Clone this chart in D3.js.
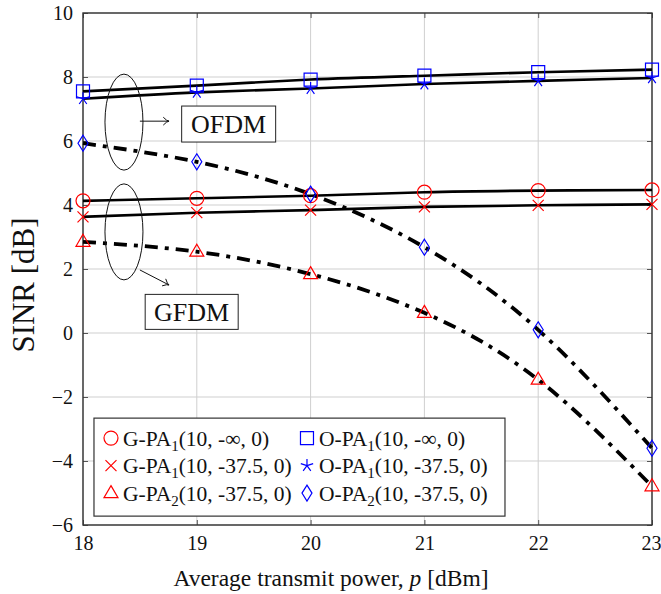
<!DOCTYPE html>
<html>
<head>
<meta charset="utf-8">
<script src="https://cdn.jsdelivr.net/npm/d3@7"></script>
<style>
  body { margin: 0; background: #fff; }
  text { font-family: "Liberation Serif", "DejaVu Serif", serif; fill: #111; }
</style>
</head>
<body>
<svg class="chart"></svg>
<script>
var margin = {top: 13, right: 9, bottom: 69, left: 83};
var width = 661 - margin.left - margin.right;
var height = 594 - margin.top - margin.bottom;

// data
var power = [18, 19, 20, 21, 22, 23];
var gPa1Inf = [4.13, 4.21, 4.29, 4.40, 4.45, 4.47];
var gPa1Tx = [3.63, 3.76, 3.84, 3.94, 3.99, 4.02];
var gPa2Tx = [2.85, 2.54, 1.84, 0.63, -1.46, -4.79];
var oPa1Inf = [7.55, 7.73, 7.92, 8.04, 8.15, 8.23];
var oPa1Tx = [7.32, 7.52, 7.64, 7.78, 7.88, 7.97];
var oPa2Tx = [5.93, 5.35, 4.34, 2.68, 0.10, -3.60];
var xTicks = [18, 19, 20, 21, 22, 23];
var yTicks = [-6, -4, -2, 0, 2, 4, 6, 8, 10];

var series = [
  {name: "G-PA", sub: "1", rest: "(10, -\u221e, 0)", values: gPa1Inf, mark: "circle", color: "#ff0000", dash: null},
  {name: "G-PA", sub: "1", rest: "(10, -37.5, 0)", values: gPa1Tx, mark: "cross", color: "#ff0000", dash: null},
  {name: "G-PA", sub: "2", rest: "(10, -37.5, 0)", values: gPa2Tx, mark: "triangle", color: "#ff0000", dash: "13,7,4,7"},
  {name: "O-PA", sub: "1", rest: "(10, -\u221e, 0)", values: oPa1Inf, mark: "square", color: "#0000ff", dash: null},
  {name: "O-PA", sub: "1", rest: "(10, -37.5, 0)", values: oPa1Tx, mark: "star", color: "#0000ff", dash: null},
  {name: "O-PA", sub: "2", rest: "(10, -37.5, 0)", values: oPa2Tx, mark: "diamond", color: "#0000ff", dash: "13,7,4,7"}
];

var svg = d3.select(".chart")
    .attr("width", 661)
    .attr("height", 594);

var chart = svg.append("g")
    .attr("transform", "translate(" + margin.left + "," + margin.top + ")");

var x = d3.scaleLinear().domain([18, 23]).range([0, width]);
var y = d3.scaleLinear().domain([-6, 10]).range([height, 0]);

// grid
chart.append("g").selectAll("line")
    .data(xTicks).enter().append("line")
    .attr("x1", function(d) { return x(d); })
    .attr("x2", function(d) { return x(d); })
    .attr("y1", 0).attr("y2", height)
    .attr("stroke", "#cfcfcf").attr("stroke-width", 1);
chart.append("g").selectAll("line")
    .data(yTicks).enter().append("line")
    .attr("y1", function(d) { return y(d); })
    .attr("y2", function(d) { return y(d); })
    .attr("x1", 0).attr("x2", width)
    .attr("stroke", "#cfcfcf").attr("stroke-width", 1);

// axes (ticks inside, labels outside)
var xAxis = chart.append("g")
    .attr("transform", "translate(0," + height + ")")
    .call(d3.axisBottom(x).tickValues(xTicks).tickSize(-5).tickPadding(11).tickFormat(d3.format("d")));
var yAxis = chart.append("g")
    .call(d3.axisLeft(y).tickValues(yTicks).tickSize(-5).tickPadding(10)
        .tickFormat(function(d) { return d < 0 ? "\u2212" + Math.abs(d) : d; }));
chart.append("g")
    .attr("transform", "translate(" + width + ",0)")
    .call(d3.axisRight(y).tickValues(yTicks).tickSize(-5).tickFormat(""));
chart.append("g")
    .call(d3.axisTop(x).tickValues(xTicks).tickSize(-5).tickFormat(""));
chart.selectAll(".domain").remove();
chart.selectAll(".tick line").attr("stroke", "#555");
[xAxis, yAxis].forEach(function(a) {
  a.selectAll("text").style("font-size", "20px")
    .style("font-family", "'Liberation Serif', serif").attr("fill", "#111");
});
xAxis.selectAll("text").filter(function(d) { return d === 23; }).attr("dx", -1);

chart.append("rect")
    .attr("width", width).attr("height", height)
    .attr("fill", "none").attr("stroke", "#333").attr("stroke-width", 1.4);

// curves
var line = d3.line()
    .x(function(d, i) { return x(power[i]); })
    .y(function(d) { return y(d); })
    .curve(d3.curveNatural);

chart.append("g").selectAll("path")
    .data(series).enter().append("path")
    .attr("d", function(d) { return line(d.values); })
    .attr("fill", "none")
    .attr("stroke", "#000")
    .attr("stroke-width", function(d) { return d.dash ? 3.8 : 2.6; })
    .attr("stroke-dasharray", function(d) { return d.dash; });

// markers
function drawMark(g, type, color) {
  var s = 6.5;
  var p;
  if (type === "circle") {
    g.append("circle").attr("r", 7).attr("fill", "none").attr("stroke", color).attr("stroke-width", 1.2);
    return;
  }
  if (type === "square") p = "M-6.5,-6.5H6.5V6.5H-6.5Z";
  if (type === "cross") p = "M-5.5,-5.5L5.5,5.5M-5.5,5.5L5.5,-5.5";
  if (type === "triangle") p = "M0,-7.5L7,4.5H-7Z";
  if (type === "diamond") p = "M0,-8L5,0L0,8L-5,0Z";
  if (type === "star") {
    p = "";
    for (var k = 0; k < 5; k++) {
      var a = -Math.PI / 2 + k * 2 * Math.PI / 5;
      p += "M0,0L" + (s * Math.cos(a)).toFixed(2) + "," + (s * Math.sin(a)).toFixed(2);
    }
  }
  g.append("path").attr("d", p).attr("fill", "none").attr("stroke", color).attr("stroke-width", 1.2);
}

series.forEach(function(s) {
  chart.append("g").selectAll("g")
    .data(s.values).enter().append("g")
    .attr("transform", function(d, i) { return "translate(" + x(power[i]) + "," + y(d) + ")"; })
    .each(function() { drawMark(d3.select(this), s.mark, s.color); });
});

// annotations: ellipses, arrows and labels
function arrow(x1, y1, x2, y2) {
  var ang = Math.atan2(y(y2) - y(y1), x(x2) - x(x1));
  var hx = x(x2), hy = y(y2), L = 7;
  var p = "M" + x(x1) + "," + y(y1) + "L" + hx + "," + hy +
    "M" + (hx - L * Math.cos(ang - 0.6)) + "," + (hy - L * Math.sin(ang - 0.6)) +
    "Q" + (hx - 2 * Math.cos(ang)) + "," + (hy - 2 * Math.sin(ang)) + " " + hx + "," + hy +
    "Q" + (hx - 2 * Math.cos(ang)) + "," + (hy - 2 * Math.sin(ang)) + " " +
    (hx - L * Math.cos(ang + 0.6)) + "," + (hy - L * Math.sin(ang + 0.6));
  chart.append("path").attr("d", p).attr("fill", "none").attr("stroke", "#111").attr("stroke-width", 1);
}
function labelBox(cx, cy, w, h, txt) {
  chart.append("rect")
    .attr("x", x(cx) - w / 2).attr("y", y(cy) - h / 2)
    .attr("width", w).attr("height", h)
    .attr("fill", "#fff").attr("stroke", "#222").attr("stroke-width", 1);
  chart.append("text")
    .attr("x", x(cx)).attr("y", y(cy) + 9)
    .attr("text-anchor", "middle")
    .style("font-size", "26px")
    .text(txt);
}
[6.59, 3.16].forEach(function(cy) {
  chart.append("ellipse")
    .attr("cx", x(18.36)).attr("cy", y(cy))
    .attr("rx", 19).attr("ry", 48)
    .attr("fill", "none").attr("stroke", "#111").attr("stroke-width", 1);
});
arrow(18.50, 6.62, 18.756, 6.62);
arrow(18.50, 1.97, 18.756, 1.50);
labelBox(19.28, 6.53, 94, 36, "OFDM");
labelBox(18.955, 0.66, 93, 35, "GFDM");

// legend
var legend = chart.append("g")
    .attr("transform", "translate(" + (x(18.1) - 0.4) + "," + (y(-2.66)) + ")");
legend.append("rect")
    .attr("width", 411).attr("height", 98)
    .attr("fill", "#fff").attr("stroke", "#333").attr("stroke-width", 1.2);
series.forEach(function(s, i) {
  var col = Math.floor(i / 3), row = i % 3;
  var gx = 17 + col * 196, gy = 20 + row * 27.5;
  var g = legend.append("g").attr("transform", "translate(" + gx + "," + gy + ")");
  drawMark(g, s.mark, s.color);
  var t = g.append("text").attr("x", 12).attr("y", 7.5).style("font-size", "21.5px");
  t.append("tspan").text(s.name);
  t.append("tspan").attr("dy", 5).style("font-size", "15px").text(s.sub);
  t.append("tspan").attr("dy", -5).text(s.rest);
});

// axis titles
var xt = svg.append("text")
    .attr("x", 331)
    .attr("y", 586)
    .attr("text-anchor", "middle")
    .style("font-size", "23.5px");
xt.append("tspan").text("Average transmit power, ");
xt.append("tspan").style("font-style", "italic").text("p");
xt.append("tspan").text(" [dBm]");

svg.append("text")
    .attr("transform", "translate(34,285) rotate(-90)")
    .attr("text-anchor", "middle")
    .style("font-size", "31px")
    .text("SINR [dB]");
</script>
</body>
</html>
